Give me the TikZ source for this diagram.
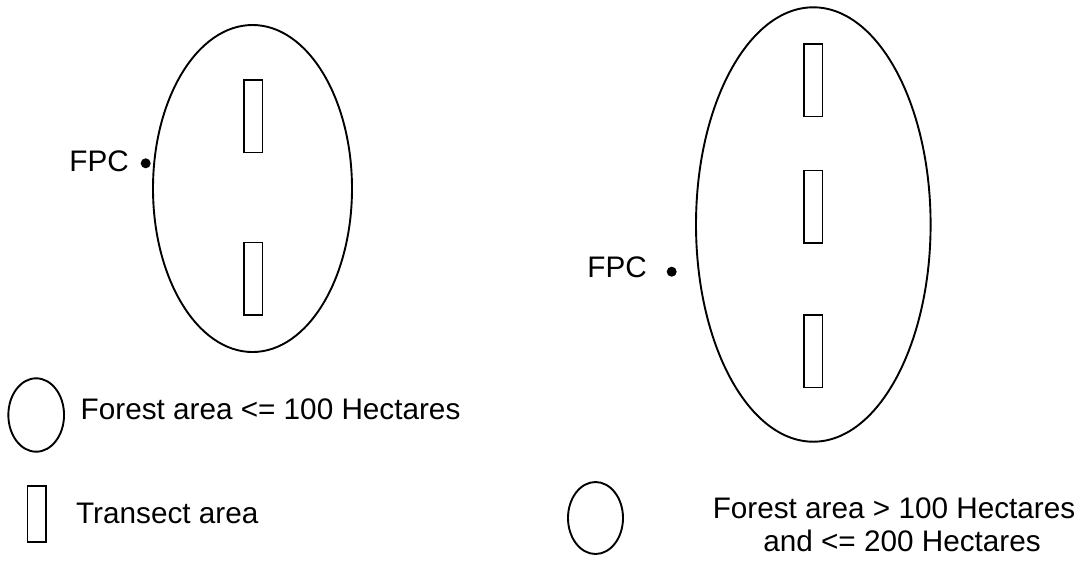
\documentclass[tikz,border=0pt]{standalone}
\usepackage{fontspec}
\setmainfont{Liberation Sans}
\usetikzlibrary{shapes.geometric}
\tikzset{
  forest/.style={draw, ellipse, line width=1.9pt, inner sep=0pt},
  transect/.style={draw, rectangle, line width=1.5pt, inner sep=0pt,
    minimum width=18.5pt, minimum height=72.5pt},
  fpcdot/.style={circle, fill, inner sep=0pt, minimum size=10pt},
  lbl/.style={inner sep=0pt, font=\fontsize{29.7}{33}\selectfont},
}
\begin{document}
\begin{tikzpicture}[x=1pt,y=-1pt]
\useasboundingbox (0,0) rectangle (1083,563);

% small forest block
\node[forest, minimum width=199pt, minimum height=327pt] (smallforest) at (252.5,188.5) {};
\node[transect] (st1) at (253.3,116.4) {};
\node[transect] (st2) at (253.3,278.8) {};
\node[fpcdot] (sdot) at (145.7,163.3) {};
\node[lbl, anchor=base east] (sfpc) at (129,171.7) {FPC};

% large forest block
\node[forest, minimum width=234.6pt, minimum height=434.4pt] (largeforest) at (813.3,224.5) {};
\node[transect] (lt1) at (813.2,80.4) {};
\node[transect] (lt2) at (813.2,206.7) {};
\node[transect] (lt3) at (813.2,351.2) {};
\node[fpcdot] (ldot) at (671.7,271.7) {};
\node[lbl, anchor=base east] (lfpc) at (647,277.7) {FPC};

% legend
\node[forest, minimum width=55.7pt, minimum height=73.4pt] (keysmall) at (36.2,415) {};
\node[lbl, anchor=base west] (keysmalltxt) at (80.5,419) {Forest area <= 100 Hectares};
\node[transect, minimum width=18.7pt, minimum height=55.7pt] (keytransect) at (36.7,513.9) {};
\node[lbl, anchor=base west] (keytransecttxt) at (76,523) {Transect area};
\node[forest, minimum width=55pt, minimum height=72pt] (keylarge) at (595.5,518) {};
\node[lbl, anchor=base] (keylargetxt) at (894,518) {Forest area > 100 Hectares};
\node[lbl, anchor=base] (keylargetxtb) at (902,551) {and <= 200 Hectares};
\end{tikzpicture}
\end{document}
